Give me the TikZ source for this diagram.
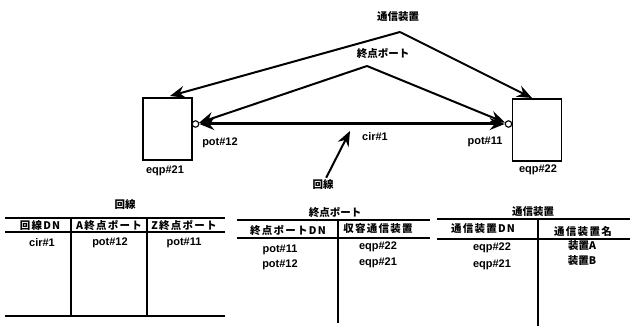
\documentclass[tikz,border=0pt]{standalone}
\usepackage{fontspec}
\setmainfont{Liberation Sans}
\newfontfamily\jp{Noto Sans CJK JP}
\usetikzlibrary{arrows.meta}
\begin{document}
\begin{tikzpicture}[x=1pt,y=-1pt,
  lat/.style={font=\fontsize{11}{13}\selectfont\bfseries, inner sep=1pt},
  jpl/.style={font=\jp\bfseries\fontsize{10.5}{12}\selectfont, inner sep=1pt},
  hdr/.style={font=\jp\bfseries\fontsize{10.5}{12}\selectfont\addfontfeature{LetterSpace=12}, inner sep=1pt},
  box/.style={draw, line width=1.5pt, minimum width=49pt, minimum height=62pt, inner sep=0pt},
  port/.style={draw, circle, line width=1.1pt, minimum size=6.5pt, inner sep=0pt},
  arr/.style={line width=2pt, -{Stealth[length=15pt,width=12pt,inset=5pt]}},
  tline/.style={line width=1.5pt}
]
\useasboundingbox (0,0) rectangle (630,326);
% top diagram
\node[box] (eqp21) at (167.5,129) {};
\node[box] (eqp22) at (537,130) {};
\node[port] (p12) at (195.5,124) {};
\node[port] (p11) at (508.5,124) {};
\draw[line width=3pt, {Stealth[length=15pt,width=12pt,inset=5pt]}-{Stealth[length=15pt,width=12pt,inset=5pt]}] (p12) -- (p11);
\node[lat] (l12) at (220,143) {pot\#12};
\node[lat] (l11) at (485,142) {pot\#11};
\node[lat] (lcir) at (375,137) {cir\#1};
\node[lat] (l21) at (165,171) {eqp\#21};
\node[lat] (l22) at (538,170) {eqp\#22};
\node[jpl] (tsu) at (398,17) {通信装置};
\node[jpl] (shu) at (383,53) {終点ポート};
\node[jpl] (kai) at (323,184) {回線};
\coordinate (a1) at (400,32);
\coordinate (a2) at (367,66);
\coordinate (t21) at (170,96);
\coordinate (t22) at (532,98);
\coordinate (c1) at (350,131);
\draw[arr] (a1) -- (t21);
\draw[arr] (a1) -- (t22);
\draw[arr] (a2) -- (p12);
\draw[arr] (a2) -- (p11);
\draw[arr] (kai) -- (c1);
% table 1
\node[jpl] (T1) at (125,205) {回線};
\draw[tline] (5,218) -- (225,218);
\draw[tline] (5,232) -- (225,232);
\draw[tline] (5,316) -- (225,316);
\draw[tline] (71,218) -- (71,316);
\draw[tline] (147,218) -- (147,316);
\node[hdr] (h11) at (40,225) {回線DN};
\node[hdr] (h12) at (109,225) {A終点ポート};
\node[hdr] (h13) at (184,225) {Z終点ポート};
\node[lat] (r11) at (42,243) {cir\#1};
\node[lat] (r12) at (110,243) {pot\#12};
\node[lat] (r13) at (184,243) {pot\#11};
% table 2
\node[jpl] (T2) at (335,212) {終点ポート};
\draw[tline] (237,220) -- (430,220);
\draw[tline] (237,238) -- (430,238);
\draw[tline] (338,220) -- (338,323);
\node[hdr] (h21) at (288,230) {終点ポートDN};
\node[hdr] (h22) at (378,229) {収容通信装置};
\node[lat] (r21) at (280,250) {pot\#11};
\node[lat] (r22) at (280,265) {pot\#12};
\node[lat] (r23) at (378,247) {eqp\#22};
\node[lat] (r24) at (378,263) {eqp\#21};
% table 3
\node[jpl] (T3) at (533,212) {通信装置};
\draw[tline] (437,219) -- (630,219);
\draw[tline] (437,239) -- (630,239);
\draw[tline] (538,219) -- (538,326);
\node[hdr] (h31) at (483,229) {通信装置DN};
\node[hdr] (h32) at (583,231) {通信装置名};
\node[lat] (r31) at (492,248) {eqp\#22};
\node[lat] (r32) at (492,265) {eqp\#21};
\node[jpl] (r33) at (582,246) {装置A};
\node[jpl] (r34) at (582,261) {装置B};
\end{tikzpicture}
\end{document}
